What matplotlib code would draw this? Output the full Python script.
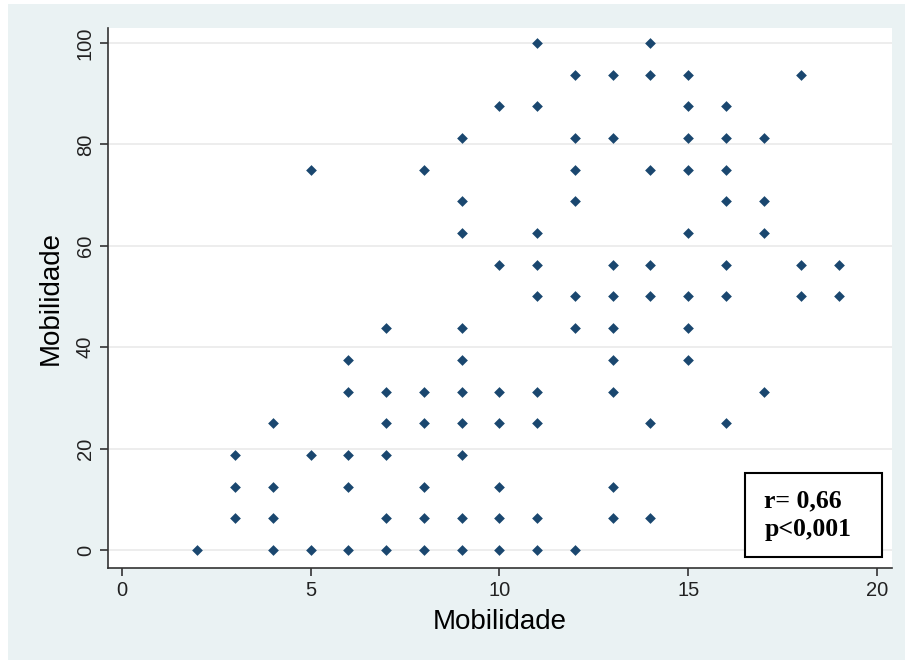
import matplotlib
matplotlib.use('Agg')
from matplotlib import pyplot as plt
from matplotlib.patches import Rectangle

# pontos agrupados por coluna (x inteiro)
x_vals = ([2] +
          [3] * 3 +
          [4] * 4 +
          [5] * 3 +
          [6] * 5 +
          [7] * 6 +
          [8] * 6 +
          [9] * 10 +
          [10] * 7 +
          [11] * 9 +
          [12] * 7 +
          [13] * 9 +
          [14] * 7 +
          [15] * 8 +
          [16] * 7 +
          [17] * 4 +
          [18] * 3 +
          [19] * 2)
y_vals = ([0] +
          [6.25, 12.5, 18.75] +
          [0, 6.25, 12.5, 25] +
          [0, 18.75, 75] +
          [0, 12.5, 18.75, 31.25, 37.5] +
          [0, 6.25, 18.75, 25, 31.25, 43.75] +
          [0, 6.25, 12.5, 25, 31.25, 75] +
          [0, 6.25, 18.75, 25, 31.25, 37.5, 43.75, 62.5, 68.75, 81.25] +
          [0, 6.25, 12.5, 25, 31.25, 56.25, 87.5] +
          [0, 6.25, 25, 31.25, 50, 56.25, 62.5, 87.5, 100] +
          [0, 43.75, 50, 68.75, 75, 81.25, 93.75] +
          [6.25, 12.5, 31.25, 37.5, 43.75, 50, 56.25, 81.25, 93.75] +
          [6.25, 25, 50, 56.25, 75, 93.75, 100] +
          [37.5, 43.75, 50, 62.5, 75, 81.25, 87.5, 93.75] +
          [25, 50, 56.25, 68.75, 75, 81.25, 87.5] +
          [31.25, 62.5, 68.75, 81.25] +
          [50, 56.25, 93.75] +
          [50, 56.25])

x_ticks = [0, 5, 10, 15, 20]
y_ticks = [0, 20, 40, 60, 80, 100]
x_label = 'Mobilidade'
y_label = 'Mobilidade'
stats_text = 'r= 0,66\np<0,001'

plt.rcParams['font.family'] = ['Liberation Sans', 'DejaVu Sans']

fig = plt.figure(figsize=(9.05, 6.6), dpi=100, facecolor='white')
fig.patches.append(Rectangle((8 / 905, 0), 1, 1 - 4 / 660, transform=fig.transFigure,
                             facecolor='#EAF2F3', edgecolor='none', zorder=-10))

ax = fig.add_axes([0.1193, 0.1394, 0.8663, 0.8182])
ax.set_facecolor('white')

ax.scatter(x_vals, y_vals, marker='D', s=30, color='#1A476F', linewidths=0, zorder=3)

ax.set_xlim(-0.37, 20.4)
ax.set_ylim(-3.55, 102.96)
ax.set_xticks(x_ticks)
ax.set_yticks(y_ticks)
ax.grid(axis='y', color='#EAEAEA', linewidth=1.2)
ax.set_axisbelow(True)

for side in ['top', 'right']:
    ax.spines[side].set_visible(False)
for side in ['left', 'bottom']:
    ax.spines[side].set_color('#333333')
    ax.spines[side].set_linewidth(1.2)

ax.tick_params(axis='both', direction='out', length=6, width=1.2, color='#333333',
               labelsize=14.5, labelcolor='#222222')
for lbl in ax.get_yticklabels():
    lbl.set_rotation(90)
    lbl.set_va('center')

ax.set_xlabel(x_label, fontsize=20, labelpad=6)
ax.set_ylabel(y_label, fontsize=20, labelpad=9)

# caixa com a correlação
ax.add_patch(Rectangle((0.8125, 0.020), 0.1745, 0.156, transform=ax.transAxes,
                       facecolor='white', edgecolor='black', linewidth=1.5, zorder=5))
ax.text(0.837, 0.098, stats_text, transform=ax.transAxes, family='Liberation Serif',
        fontweight='bold', fontsize=18.5, va='center', ha='left', linespacing=1.35, zorder=6)

fig.savefig('out.png', dpi=100, facecolor=fig.get_facecolor())
